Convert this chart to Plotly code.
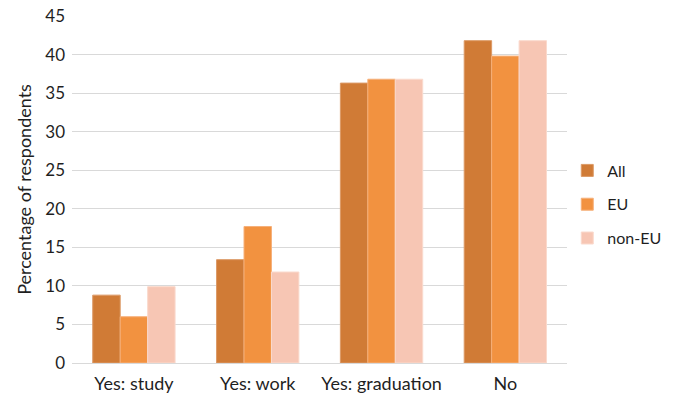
import plotly.graph_objects as go

categories = ["Yes: study", "Yes: work", "Yes: graduation", "No"]
all_values = [8.8, 13.4, 36.3, 41.8]
eu_values = [6.0, 17.7, 36.8, 39.8]
non_eu_values = [9.9, 11.8, 36.8, 41.8]

series = [
    ("All", all_values, "#D07B36", "#DC9A66"),
    ("EU", eu_values, "#F29240", "#F6B07A"),
    ("non-EU", non_eu_values, "#F7C6B4", "#FADACD"),
]

font_family = "Lato, 'Open Sans', sans-serif"
text_color = "#1f1f1f"

fig = go.Figure()
for name, values, color, edge in series:
    fig.add_trace(go.Bar(
        x=categories,
        y=values,
        name=name,
        legendgroup=name,
        marker=dict(color=color, line=dict(color=edge, width=1)),
    ))

fig.update_layout(
    width=681,
    height=401,
    barmode="group",
    bargap=0.335,
    bargroupgap=0,
    plot_bgcolor="white",
    paper_bgcolor="white",
    margin=dict(l=72, r=112, t=16, b=38),
    font=dict(family=font_family, size=17, color=text_color),
    legend=dict(
        xref="container", yref="container",
        x=0.833, y=0.49, xanchor="left", yanchor="middle",
        font=dict(size=16, color=text_color),
        tracegroupgap=10,
        itemwidth=30,
    ),
    xaxis=dict(
        automargin=False,
        showgrid=False,
        showline=True,
        linecolor="#D9D9D9",
        linewidth=1,
        ticks="",
        ticklabelstandoff=4,
        tickfont=dict(size=18, color=text_color),
    ),
    yaxis=dict(
        automargin=False,
        range=[0, 45],
        dtick=5,
        showgrid=True,
        gridcolor="#D9D9D9",
        gridwidth=1,
        zeroline=False,
        ticks="",
        ticklabelstandoff=6,
        tickfont=dict(size=17, color=text_color),
        title=dict(text="Percentage of respondents", font=dict(size=18, color=text_color), standoff=8),
    ),
)

fig.write_html("out.html")
